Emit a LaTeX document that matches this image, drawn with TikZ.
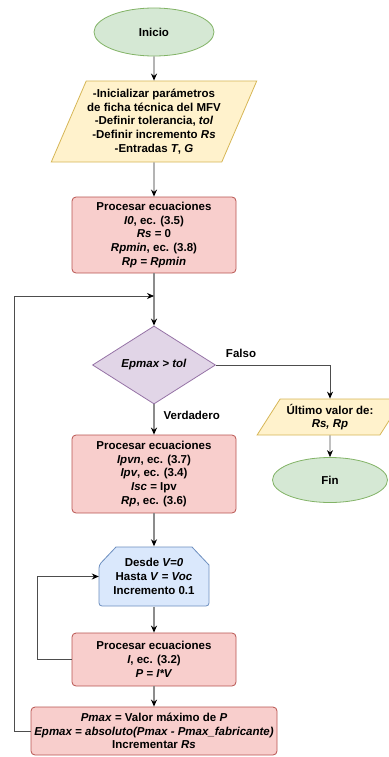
\documentclass[tikz,border=0pt]{standalone}
\usepackage{fontspec}
\setmainfont{Liberation Sans}
\usetikzlibrary{shapes.geometric,arrows.meta}

\definecolor{verdeF}{HTML}{D5E8D4}\definecolor{verdeL}{HTML}{82B366}
\definecolor{amarF}{HTML}{FFF2CC}\definecolor{amarL}{HTML}{D6B656}
\definecolor{rojoF}{HTML}{F8CECC}\definecolor{rojoL}{HTML}{B85450}
\definecolor{moraF}{HTML}{E1D5E7}\definecolor{moraL}{HTML}{9673A6}
\definecolor{azulF}{HTML}{DAE8FC}\definecolor{azulL}{HTML}{6C8EBF}
\definecolor{eje}{HTML}{8C8C8C}\definecolor{lazo}{HTML}{4D4D4D}

\begin{document}
\begin{tikzpicture}[x=1pt,y=-1pt,
  every node/.style={font=\fontsize{11.5}{13.8}\selectfont\bfseries,align=center,inner sep=1pt},
  terminal/.style={ellipse,draw=verdeL,fill=verdeF,line width=0.8pt},
  datos/.style={trapezium,trapezium stretches=true,draw=amarL,fill=amarF,line width=0.8pt},
  proceso/.style={rectangle,rounded corners=4pt,draw=rojoL,fill=rojoF,line width=0.8pt,minimum width=164},
  decision/.style={diamond,draw=moraL,fill=moraF,line width=0.8pt,minimum width=123,minimum height=78,inner sep=0pt},
  flecha/.style={-{Stealth[color=black,length=7pt,width=6pt]}},
  ejeline/.style={flecha,draw=eje,line width=1.2pt},
  lazoline/.style={flecha,draw=lazo,line width=0.8pt}]
  \useasboundingbox (0,0) rectangle (388,757);

  \node[terminal,minimum width=120,minimum height=48] (ini) at (154,32) {Inicio};
  \node[datos,trapezium left angle=62.6,trapezium right angle=117.4,minimum width=198,minimum height=81] (ent) at (154,121.5)
    {-Inicializar parámetros\\de ficha técnica del MFV\\-Definir tolerancia, \textit{tol}\\-Definir incremento \textit{Rs}\\-Entradas \textit{T}, \textit{G}};
  \node[proceso,minimum height=76] (proc1) at (154,235)
    {Procesar ecuaciones\\\textit{I0}, ec. (3.5)\\\textit{Rs} = 0\\\textit{Rpmin}, ec. (3.8)\\\textit{Rp = Rpmin}};
  \node[decision] (dec) at (154,365) {\textit{Epmax > tol}};
  \node[datos,trapezium left angle=54.2,trapezium right angle=125.8,minimum width=146,minimum height=36] (res) at (330,417)
    {Último valor de:\\\textit{Rs, Rp}};
  \node[terminal,minimum width=115,minimum height=45] (fin) at (330,480) {Fin};
  \node[proceso,minimum height=78] (proc2) at (154,474)
    {Procesar ecuaciones\\\textit{Ipvn}, ec. (3.7)\\\textit{Ipv}, ec. (3.4)\\\textit{Isc} = Ipv\\\textit{Rp}, ec. (3.6)};
  % bloque de repeticion (esquinas superiores recortadas)
  \filldraw[draw=azulL,fill=azulF,line width=0.8pt,rounded corners=3pt]
    (99,565) [sharp corners]-- (116,547) -- (192,547) -- (209,565) [rounded corners=3pt]-- (209,606) -- (99,606) -- cycle;
  \node[minimum width=110,minimum height=60] (lim) at (154,576.5)
    {Desde \textit{V=0}\\Hasta \textit{V} = \textit{Voc}\\Incremento 0.1};
  \node[proceso,minimum height=53] (proc3) at (154,659.5)
    {Procesar ecuaciones\\\textit{I}, ec. (3.2)\\\textit{P = I*V}};
  \node[proceso,minimum width=246,minimum height=48] (calc) at (154,731)
    {\textit{Pmax} = Valor máximo de \textit{P}\\\textit{Epmax = absoluto(Pmax - Pmax\_fabricante)}\\Incrementar \textit{Rs}};

  \coordinate (union) at (154,296);

  \path[ejeline] (ini) edge (ent)
                 (ent) edge (proc1)
                 (proc1) edge (dec)
                 (dec) edge node[right,pos=0.35,xshift=8pt] {Verdadero} (proc2)
                 (proc2) edge (lim)
                 (lim) edge (proc3)
                 (proc3) edge (calc);
  \draw[lazoline] (dec.east) -| node[above,pos=0.11,yshift=6pt] {Falso} (res.north);
  \draw[lazoline] (res) -- (fin);
  \draw[lazoline] (proc3.west) -- ++(-34,0) |- (lim.west);
  \draw[lazoline] (calc.west) -- ++(-16,0) |- (union);
\end{tikzpicture}
\end{document}
